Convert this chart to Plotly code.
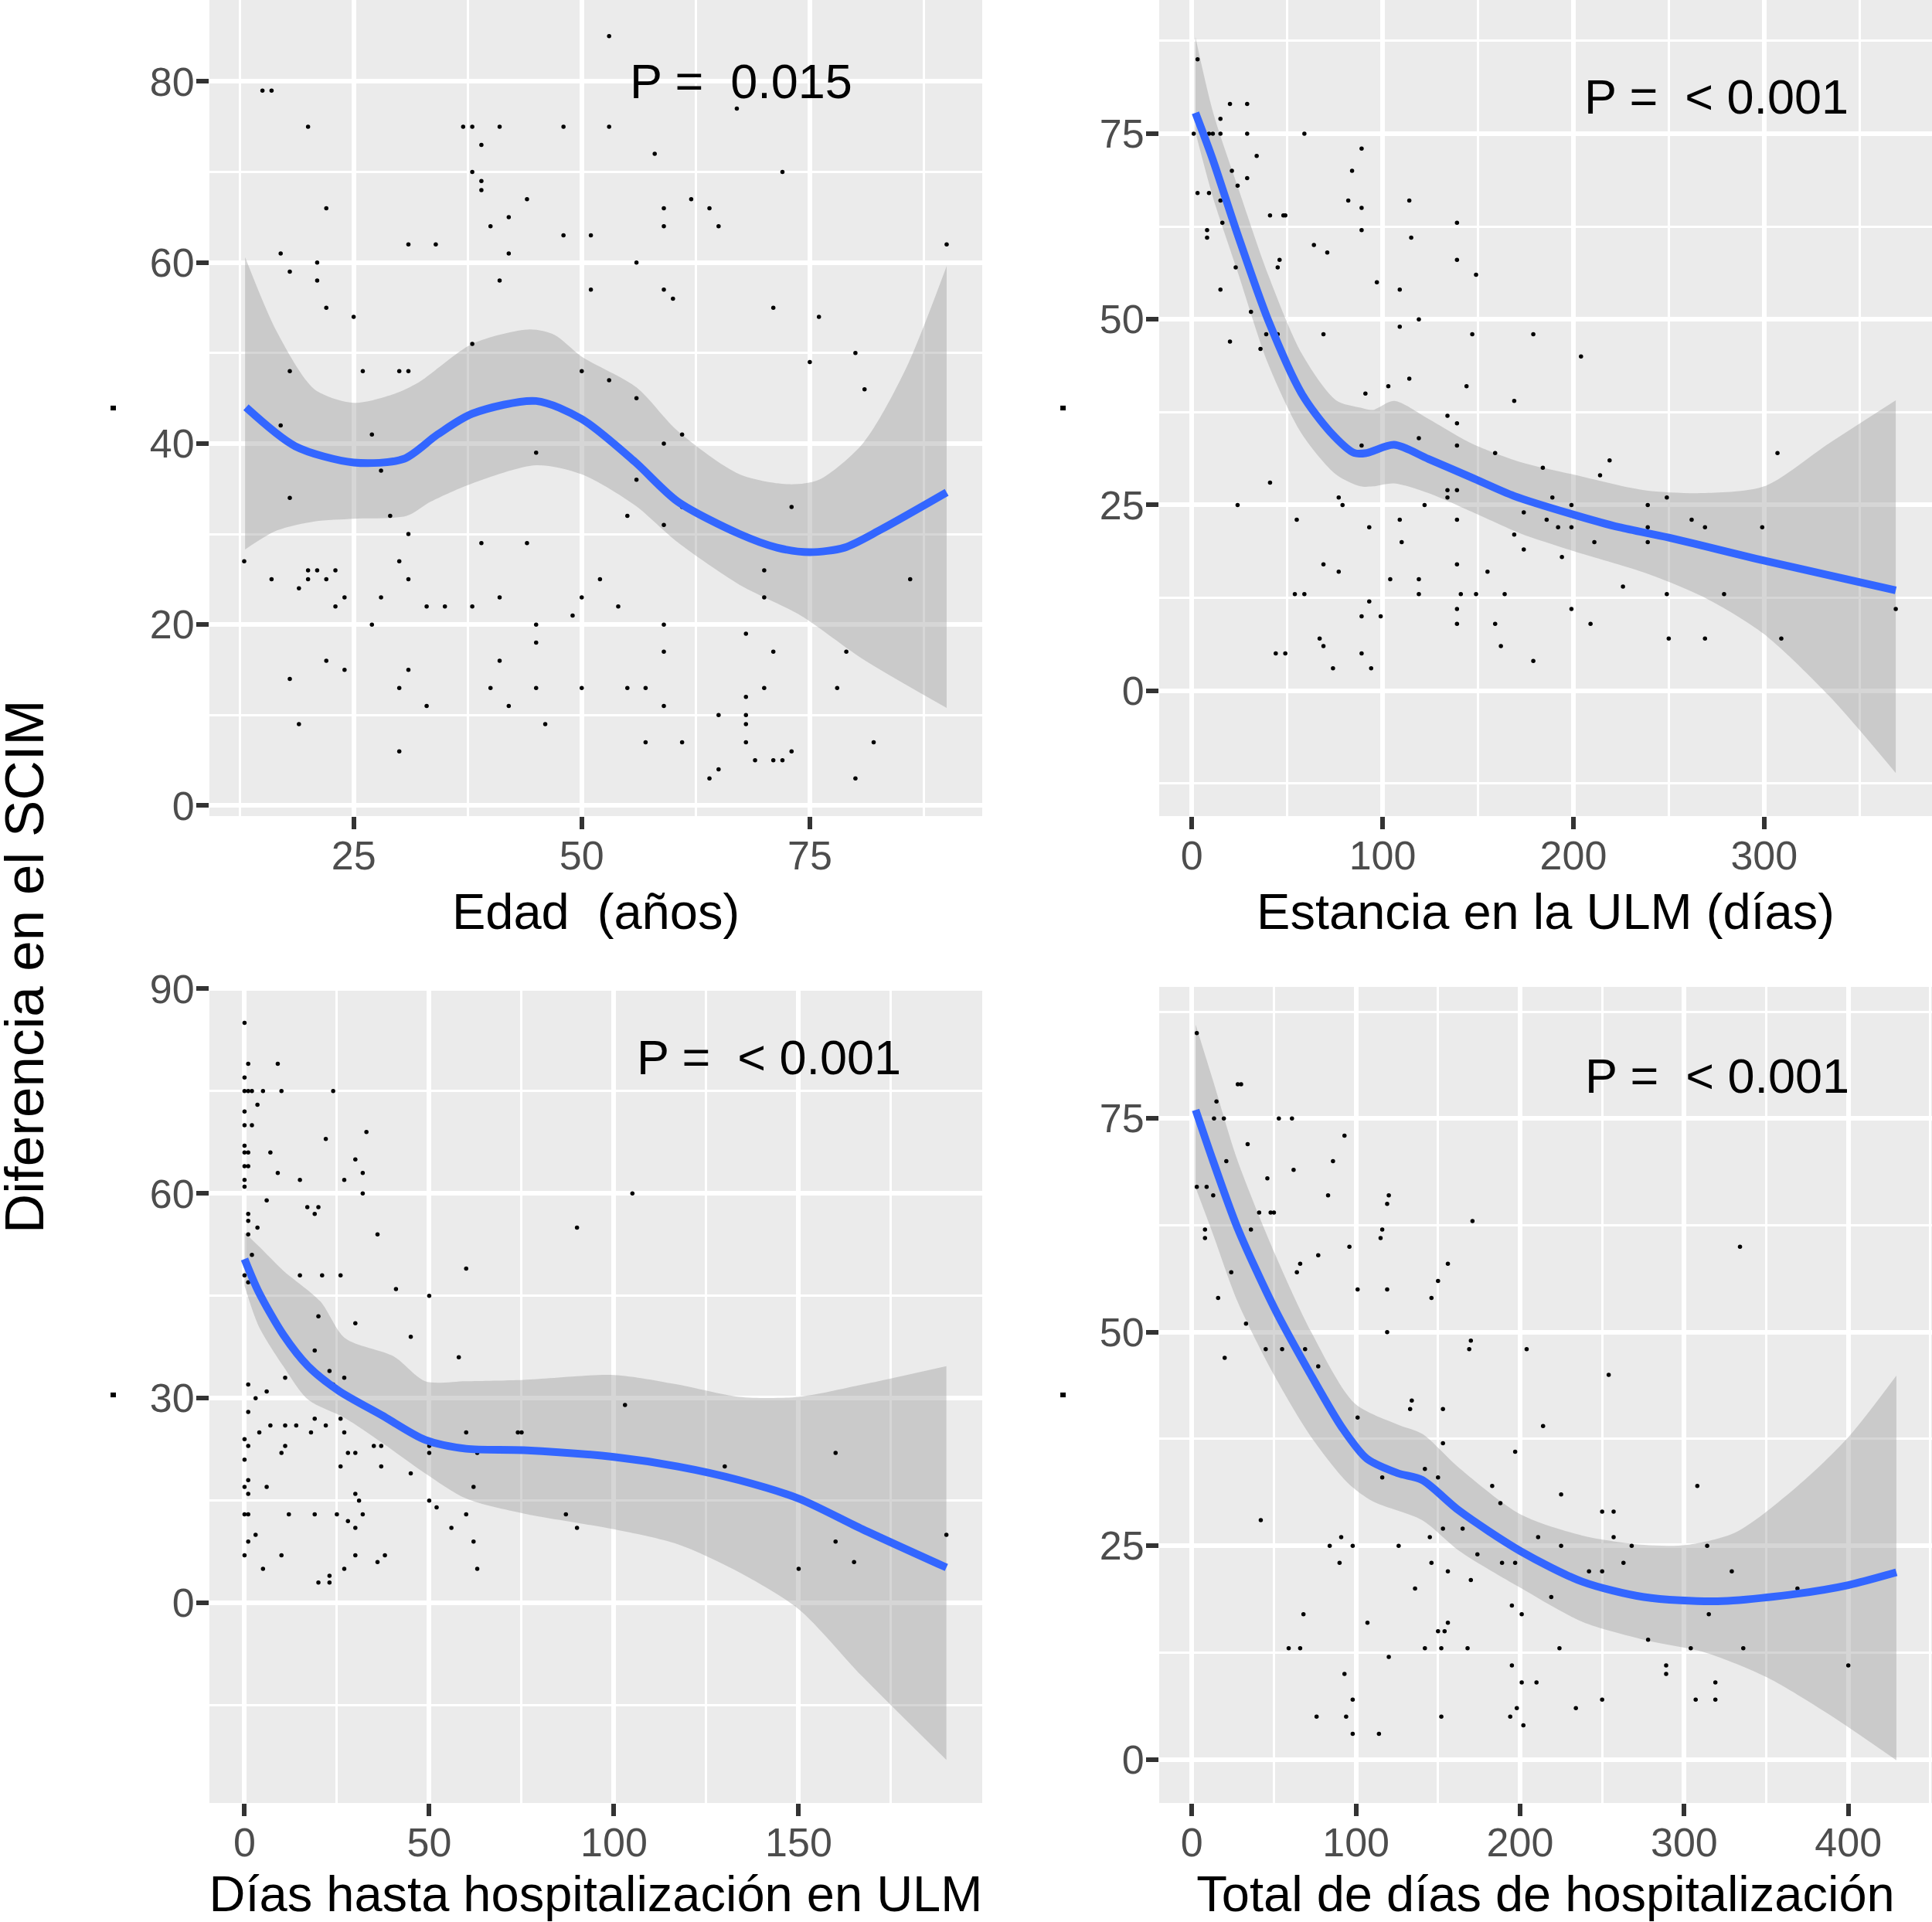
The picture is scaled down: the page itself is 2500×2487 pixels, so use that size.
import plotly.graph_objects as go
from plotly.subplots import make_subplots

FONT = "Liberation Sans, Arial, Helvetica, sans-serif"
W, H = 2500, 2487

# ---------- panel 1: edad
edad_x = [53, 15, 16, 20, 37, 38, 41, 48, 53, 67, 39, 58, 38, 39, 39, 72, 44, 22, 62, 59, 64, 40, 42, 59, 65,
          48, 51, 31, 34, 17, 42, 90, 21, 56, 18, 21, 41, 51, 59, 60, 22, 71, 25, 76, 38, 80, 75, 18, 26, 30,
          31, 50, 53, 81, 56, 17, 27, 61, 59, 45, 28, 56, 18, 61, 73, 29, 55, 59, 31, 39, 44, 13, 30, 20, 21,
          23, 70, 16, 20, 22, 31, 52, 86, 19, 24, 28, 41, 50, 70, 23, 33, 35, 38, 54, 49, 27, 45, 59, 68, 45,
          59, 71, 79, 22, 41, 24, 31, 18, 30, 40, 45, 50, 55, 57, 70, 78, 33, 42, 59, 68, 65, 68, 68, 19, 46,
          57, 61, 68, 82, 69, 71, 72, 73, 30, 65, 64, 80]
edad_y = [85, 79, 79, 75, 75, 75, 75, 75, 75, 77, 73, 72, 70, 69, 68, 70, 67, 66, 67, 66, 66, 64, 65, 64, 64,
          63, 63, 62, 62, 61, 61, 62, 60, 60, 59, 58, 58, 57, 57, 56, 55, 55, 54, 54, 51, 50, 49, 48, 48, 48,
          48, 48, 47, 46, 45, 42, 41, 41, 40, 39, 37, 36, 34, 33, 33, 32, 32, 31, 30, 29, 29, 27, 27, 26, 26,
          26, 26, 25, 25, 25, 25, 25, 25, 24, 23, 23, 23, 23, 23, 22, 22, 22, 22, 22, 21, 20, 20, 20, 19, 18,
          17, 17, 17, 16, 16, 15, 15, 14, 13, 13, 13, 13, 13, 13, 13, 13, 11, 11, 11, 12, 10, 10, 9, 9, 9,
          7, 7, 7, 7, 5, 5, 5, 6, 6, 4, 3, 3]
edad_fit_x = [13.2, 18.6, 25, 30.5, 34.2, 38, 45, 50, 55.8, 60.5, 67.3, 71.4, 75, 78.8, 82.8, 90]
edad_fit_y = [44, 39.7, 37.9, 38.3, 41, 43.3, 44.7, 42.7, 38, 33.6, 30, 28.5, 28, 28.5, 30.5, 34.6]
edad_hi_x = [13.1, 16.6, 20.7, 25, 29.5, 32.2, 38, 44.3, 47, 50, 56, 60.5, 67.3, 72.7, 76, 80.8, 85.5, 90]
edad_hi_y = [60.6, 52.3, 46, 44.5, 45.5, 46.8, 51, 52.6, 52, 49.6, 46.2, 41.4, 36.6, 35.5, 36, 40, 48.2, 59.6]
edad_lo_x = [13.1, 16.6, 20.7, 25, 30.8, 33.5, 38, 45, 50, 55.8, 60.5, 67.3, 74, 80.8, 90]
edad_lo_y = [28.3, 30.4, 31.4, 31.7, 32, 33.6, 35.6, 37.6, 36.6, 33.2, 29.1, 24.4, 21, 16.2, 10.8]

# ---------- panel 2: estancia ULM
est_x = [3, 1, 9, 11, 15, 20, 29, 15, 29, 59, 34, 89, 21, 84, 24, 29, 3, 9, 15, 82, 89, 114, 41, 48, 49,
         139, 8, 8, 16, 89, 115, 64, 71, 46, 45, 139, 23, 149, 97, 15, 109, 31, 119, 109, 20, 36, 39, 45, 69,
         147, 179, 204, 114, 103, 144, 91, 169, 134, 139, 119, 89, 139, 159, 307, 219, 184, 214, 41, 134,
         139, 77, 134, 189, 249, 24, 79, 122, 199, 239, 55, 109, 139, 174, 186, 262, 93, 192, 199, 239, 269,
         299, 169, 110, 211, 239, 174, 194, 69, 139, 77, 155, 104, 119, 226, 54, 59, 119, 141, 149, 164, 249,
         279, 93, 139, 199, 369, 89, 99, 139, 159, 209, 67, 69, 162, 250, 269, 309, 44, 49, 89, 179, 74, 94]
est_y = [85, 75, 75, 75, 75, 79, 79, 77, 75, 75, 72, 73, 70, 70, 68, 69, 67, 67, 66, 66, 65, 66, 64, 64, 64,
         63, 62, 61, 63, 62, 61, 60, 59, 58, 57, 58, 57, 56, 55, 54, 54, 51, 50, 49, 47, 46, 48, 48, 48,
         48, 48, 45, 42, 41, 41, 40, 39, 37, 36, 34, 33, 33, 32, 32, 31, 30, 29, 28, 27,
         27, 26, 26, 26, 26, 25, 25, 25, 25, 25, 23, 23, 23, 24, 23, 23, 22, 22, 22, 22, 22,
         22, 21, 20, 20, 20, 19, 18, 17, 17, 16, 16, 15, 15, 14, 13, 13, 13, 13, 13, 13, 13,
         13, 12, 11, 11, 11, 10, 10, 9, 9, 9, 7, 6, 6, 7, 7, 7, 5, 5, 5, 4, 3, 3]
est_fit_x = [1.9, 11, 23.9, 40, 57.8, 72.3, 85.2, 91.7, 106, 124, 146.6, 169, 200, 224, 250, 300, 369]
est_fit_y = [77.8, 71.5, 61.5, 49.9, 39.9, 34.9, 32, 32, 33.1, 31.2, 28.7, 26.2, 23.7, 22, 20.6, 17.5, 13.5]
est_hi_x = [1.9, 11, 23.9, 40, 57.8, 75.6, 88.5, 95, 106, 124, 146.6, 172, 200, 237, 269, 300, 334, 369]
est_hi_y = [88, 78, 68, 56, 45.3, 39.1, 38.1, 37.8, 39, 36.6, 33.3, 30.8, 29.1, 27, 26.6, 27.5, 33.3, 39.1]
est_lo_x = [1.9, 11, 23.9, 40, 57.8, 75.6, 88.5, 95, 106, 124, 146.6, 172, 200, 237, 269, 300, 334, 369]
est_lo_y = [75.2, 66.5, 56.5, 44, 34.5, 29.1, 27.5, 27.5, 27.9, 26.6, 24.1, 21.2, 18.8, 15.9, 12.5, 7.6, -0.7, -11.1]

# ---------- panel 3: dias hasta hospitalizacion
hasta_x = [0, 1, 9, 0, 0, 1, 2, 5, 10, 24, 3.5, 0, 0, 2, 22, 33, 0, 1, 0, 7, 0, 1, 30, 9, 32, 0, 15, 27, 0,
           32, 105, 6, 17, 20, 19, 1, 1, 3.5, 90, 1, 36, 2, 0, 15, 21, 26, 60, 1, 41, 50, 20, 45, 19, 58, 30,
           23, 11, 24, 27, 1, 6, 3, 103, 1, 7, 11, 14, 22, 19, 26, 4, 18, 27, 60, 74, 75, 0, 1, 11, 35, 37,
           50, 10, 28, 30, 50, 63, 160, 0, 26, 37, 130, 45, 1, 0, 6, 62, 1, 30, 31, 50, 52, 0, 1, 12, 19, 25,
           32, 60, 87, 28, 30, 56, 90, 3, 190, 1, 62, 160, 0, 10, 30, 38, 36, 165, 5, 27, 63, 150, 20, 23, 23]
hasta_y = [85, 79, 79, 77, 75, 75, 75, 75, 75, 75, 73, 72, 70, 70, 68, 69, 67, 66, 66, 66, 64, 64, 65, 63, 63,
           62, 62, 62, 61, 60, 60, 59, 58, 58, 57, 57, 56, 55, 55, 54, 54, 51, 48, 48, 48, 48, 49, 47, 46, 45,
           42, 39, 37, 36, 41, 34, 33, 32, 33, 32, 31, 30, 29, 28, 26, 26, 26, 26, 27, 27, 25, 25, 25, 25, 25,
           25, 24, 23, 23, 23, 23, 23, 22, 22, 22, 22, 22, 22, 21, 20, 20, 20, 19, 18, 17, 17, 17, 16, 16, 15,
           15, 14, 13, 13, 13, 13, 13, 13, 13, 13, 12, 11, 11, 11, 10, 10, 9, 9, 9, 7, 7, 7, 7, 6, 6, 5, 5, 5,
           5, 3, 3, 4]
hasta_fit_x = [0, 3.8, 10.5, 17.2, 25.5, 37.2, 48.9, 60, 75.6, 100, 117.3, 133.9, 150, 167.3, 190]
hasta_fit_y = [50.4, 45.6, 39.3, 34.7, 31.1, 27.5, 23.9, 22.6, 22.4, 21.4, 20, 18, 15.3, 10.8, 5.2]
hasta_hi_x = [0, 3.8, 10.5, 20.5, 27.2, 40.5, 48.9, 60, 75.6, 100, 117.3, 133.9, 150, 167.3, 190]
hasta_hi_y = [54.3, 52.3, 48.7, 44.2, 38.8, 36.1, 32.5, 32.5, 32.7, 33.4, 32, 30.2, 30.2, 32, 34.7]
hasta_lo_x = [0, 3.8, 10.5, 17.2, 27.2, 37.2, 48.9, 60, 75.6, 100, 117.3, 133.9, 150, 167.3, 190]
hasta_lo_y = [46.5, 40.6, 34.7, 29.8, 27.1, 23.5, 19, 15.3, 13.1, 10.8, 8.6, 4.5, -0.9, -10.8, -23]

# ---------- panel 4: total dias hospitalizacion
total_x = [3, 28, 30, 15, 13.5, 19.5, 53, 61, 93, 34, 21, 86, 46, 62, 3, 9, 13, 120, 119, 83, 41, 48, 50,
           171, 8, 8, 36, 116, 115, 96, 334, 77, 66, 64, 156, 24, 150, 101, 119, 146, 16, 33, 119, 170, 169,
           45, 55, 69, 204, 20, 77, 254, 134, 133, 153, 101, 214, 197, 153, 142, 150, 116, 183, 308, 188, 225,
           250, 257, 42, 165, 153, 91, 145, 211, 257, 84, 98, 126, 225, 268, 314, 90, 146, 189, 197, 263, 156,
           242, 250, 329, 174, 136, 170, 369, 219, 195, 68, 201, 315, 107, 156, 150, 154, 278, 59, 66, 142,
           152, 168, 224, 304, 336, 120, 195, 289, 289, 400, 93, 201, 210, 319, 319, 98, 250, 307, 234, 198,
           76, 94, 152, 194, 202, 98, 114]
total_y = [85, 79, 79, 77, 75, 75, 75, 75, 73, 72, 70, 70, 68, 69, 67, 67, 66, 66, 65, 66, 64, 64, 64,
           63, 62, 61, 62, 62, 61, 60, 60, 59, 58, 57, 58, 57, 56, 55, 55, 54, 54, 51, 50, 49, 48,
           48, 48, 48, 48, 47, 46, 45, 42, 41, 41, 40, 39, 36, 37, 34, 33, 33, 32, 32, 30, 31,
           29, 29, 28, 27, 27, 26, 26, 26, 26, 25, 25, 25, 25, 25, 25, 23, 23, 23, 23, 23, 22,
           22, 22, 22, 24, 20, 21, 20, 19, 18, 17, 17, 17, 16, 16, 15, 15, 14, 13, 13, 13,
           13, 13, 13, 13, 13, 12, 11, 11, 10, 11, 10, 9, 9, 9, 7, 7, 7, 7, 6, 6,
           5, 5, 5, 5, 4, 3, 3]
total_fit_x = [2.3, 12.8, 27.8, 50.3, 72.8, 91.6, 106.6, 125.3, 140.3, 162.9, 200, 237.9, 275.4, 320.4, 369.2, 400, 429.3]
total_fit_y = [76, 70.1, 62.2, 52.8, 44.9, 38.8, 35.2, 33.5, 32.7, 29.1, 24.4, 20.8, 19, 18.5, 19.4, 20.4, 21.9]
total_hi_x = [2.3, 12.8, 27.8, 50.3, 72.8, 99, 125.3, 140.3, 162.9, 200, 237.9, 275.4, 301.7, 331.7, 369.2, 400, 429.3]
total_hi_y = [86, 79.5, 70.1, 59.3, 50, 41.7, 39.2, 38.1, 34.1, 28.7, 26.2, 25.1, 25.1, 26.6, 32, 37.7, 44.9]
total_lo_x = [2.3, 12.8, 27.8, 50.3, 72.8, 95.3, 110.3, 140.3, 162.9, 200, 237.9, 275.4, 313, 350.5, 388, 429.3]
total_lo_y = [66.9, 61.5, 53.6, 44.9, 37.7, 32.3, 30.2, 28, 24.4, 20.1, 16.1, 14, 12.5, 9.6, 5.3, -0.1]

panels = [
    dict(px=edad_x, py=edad_y, fx=edad_fit_x, fy=edad_fit_y, hx=edad_hi_x, hy=edad_hi_y,
         lx=edad_lo_x, ly=edad_lo_y, xr=[9.19, 93.9], yr=[-1.16, 89.0], xd=25, yd=20,
         title="Edad\u00a0 (años)", p="P =\u00a0 0.015", pxy=(67.5, 80)),
    dict(px=est_x, py=est_y, fx=est_fit_x, fy=est_fit_y, hx=est_hi_x, hy=est_hi_y,
         lx=est_lo_x, ly=est_lo_y, xr=[-17.1, 388], yr=[-16.9, 93.0], xd=100, yd=25,
         title="Estancia en la ULM (días)", p="P =\u00a0 < 0.001", pxy=(275, 80)),
    dict(px=hasta_x, py=hasta_y, fx=hasta_fit_x, fy=hasta_fit_y, hx=hasta_hi_x, hy=hasta_hi_y,
         lx=hasta_lo_x, ly=hasta_lo_y, xr=[-9.5, 199.7], yr=[-29.3, 90.27], xd=50, yd=30,
         title="Días hasta hospitalización en ULM", p="P =\u00a0 < 0.001", pxy=(142, 80)),
    dict(px=total_x, py=total_y, fx=total_fit_x, fy=total_fit_y, hx=total_hi_x, hy=total_hi_y,
         lx=total_lo_x, ly=total_lo_y, xr=[-19.9, 451], yr=[-5.1, 90.4], xd=100, yd=25,
         title="Total de días de hospitalización", p="P =\u00a0 < 0.001", pxy=(320, 80)),
]

# panel boxes in pixels (left, right, top, bottom)
boxes = [(271, 1271, 0, 1056), (1500, 2500, 0, 1056),
         (271, 1271, 1277, 2333), (1500, 2500, 1277, 2333)]

fig = make_subplots(rows=2, cols=2)

for i, (pn, box) in enumerate(zip(panels, boxes)):
    r, c = i // 2 + 1, i % 2 + 1
    # confidence band: lower edge, then upper edge filled down to it
    fig.add_trace(go.Scatter(x=pn["lx"], y=pn["ly"], mode="lines",
                             line=dict(width=0, shape="spline", smoothing=0.8),
                             hoverinfo="skip", showlegend=False), row=r, col=c)
    fig.add_trace(go.Scatter(x=pn["hx"], y=pn["hy"], mode="lines", fill="tonexty",
                             fillcolor="rgba(153,153,153,0.4)",
                             line=dict(width=0, shape="spline", smoothing=0.8),
                             hoverinfo="skip", showlegend=False), row=r, col=c)
    fig.add_trace(go.Scatter(x=pn["px"], y=pn["py"], mode="markers",
                             marker=dict(size=5.5, color="black"), showlegend=False), row=r, col=c)
    fig.add_trace(go.Scatter(x=pn["fx"], y=pn["fy"], mode="lines",
                             line=dict(color="#3366FF", width=10, shape="spline", smoothing=0.8),
                             showlegend=False), row=r, col=c)
    l, rgt, t, b = box
    common = dict(showgrid=True, gridcolor="white", gridwidth=6, zeroline=False, showline=False,
                  automargin=False, ticks="outside", ticklen=16, tickwidth=6, tickcolor="#333333",
                  tickfont=dict(family=FONT, size=52, color="#4D4D4D"), tick0=0)
    fig.update_xaxes(range=pn["xr"], dtick=pn["xd"], domain=[l / W, rgt / W],
                     minor=dict(dtick=pn["xd"] / 2, tick0=0, showgrid=True, gridcolor="white", gridwidth=3),
                     title=dict(text=pn["title"], font=dict(family=FONT, size=65, color="black"), standoff=21),
                     ticklabelstandoff=-10, **common, row=r, col=c)
    fig.update_yaxes(range=pn["yr"], dtick=pn["yd"], domain=[1 - b / H, 1 - t / H],
                     minor=dict(dtick=pn["yd"] / 2, tick0=0, showgrid=True, gridcolor="white", gridwidth=3),
                     title=dict(text=".", font=dict(family=FONT, size=65, color="black"), standoff=22),
                     ticklabelstandoff=-8, **common, row=r, col=c)
    fig.add_annotation(x=pn["pxy"][0], y=pn["pxy"][1], xref="x%d" % (i + 1) if i else "x",
                       yref="y%d" % (i + 1) if i else "y", text=pn["p"], showarrow=False,
                       font=dict(family=FONT, size=63, color="black"))

fig.add_annotation(x=31 / W, y=1 - 1251 / H, xref="paper", yref="paper", xanchor="center", yanchor="middle",
                   text="Diferencia en el SCIM", textangle=-90, showarrow=False,
                   font=dict(family=FONT, size=71, color="black"))

fig.update_layout(template="none", width=W, height=H, margin=dict(l=0, r=0, t=0, b=0, pad=0),
                  plot_bgcolor="#EBEBEB", paper_bgcolor="white", font=dict(family=FONT),
                  showlegend=False)

# the page body has a default 8px margin; drop it so the figure fills the window
fig.write_html("out.html", config={"displayModeBar": False},
               post_script="document.body.style.margin = '0';")
